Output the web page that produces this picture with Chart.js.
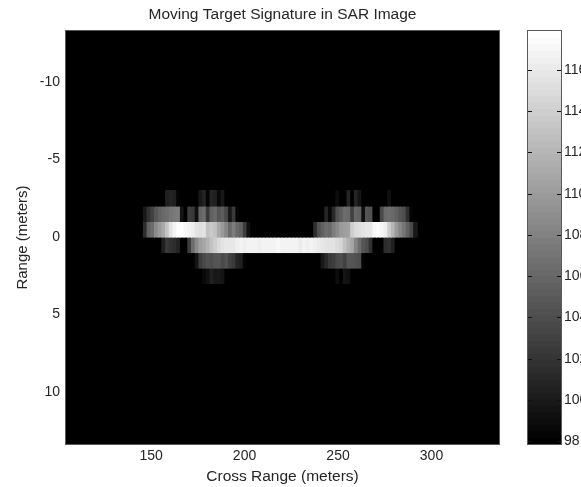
<!DOCTYPE html>
<html>
<head>
<meta charset="utf-8">
<title>Moving Target Signature in SAR Image</title>
<script src="https://cdn.jsdelivr.net/npm/chart.js@4/dist/chart.umd.min.js"></script>
<style>
  html, body { margin: 0; padding: 0; background: #fff; overflow: hidden; }
  canvas { position: absolute; top: 0; }
  #sar { left: 0; }
  #bar { left: 505px; }
</style>
</head>
<body>
<canvas id="sar" width="565" height="487"></canvas>
<canvas id="bar" width="76" height="487"></canvas>
<script>
// cross range of each image column (meters)
const crossRange = [146.88,148.86,150.84,152.82,154.80,156.78,158.76,160.74,162.72,164.70,
  166.68,168.66,170.64,172.62,174.60,176.58,178.56,180.54,182.52,184.50,
  186.48,188.46,190.44,192.42,194.40,196.38,198.36,200.34,202.32,204.30,
  206.28,208.26,210.24,212.22,214.20,216.18,218.16,220.14,222.12,224.10,
  226.08,228.06,230.04,232.02,234.00,235.98,237.96,239.94,241.92,243.90,
  245.88,247.86,249.84,251.82,253.80,255.78,257.76,259.74,261.72,263.70,
  265.68,267.66,269.64,271.62,273.60,275.58,277.56,279.54,281.52,283.50,
  285.48,287.46,289.44,291.42];

// image rows, one per meter of range, values in dB
const rowM3 = [98,98,98,98,98,98,100.4,100.7,100.4,98.4,
  98,98,98,98,98,100,100.7,98.4,100.7,100.4,
  98.8,100,98,98,98,98,98,98,98,98,
  98,98,98,98,98,98,98,98,98,98,
  98,98,98,98,98,98,98,98,98,98,
  98,98,98.9,98,98,100.7,98,100.7,99.6,98,
  98,98,98,98,98,98,99.2,98,98,98,
  98,98,98,98];
const rowM2 = [100,101.9,103.1,104.7,105.5,106.2,106.6,107,107.4,107.8,
  99.6,98,102.7,102.3,99.2,105.8,106.6,102.3,105.5,106.2,
  104.7,105.1,103.5,100,102.3,98.4,98,98,98,98,
  98,98,98,98,98,98,98,98,98,98,
  98,98,98,98,98,98,98,98,98,100.7,
  98.8,101.1,104.3,105.1,106.6,106.2,103.1,105.8,105.5,99.2,
  104.7,104.3,98,98,103.5,106.2,106.6,106.2,105.5,104.7,
  103.9,101.5,98.4,98];
const rowM1 = [101.5,105.5,106.6,108.6,109.8,111.3,113.3,115.6,116.8,117.6,
  117.8,117.2,116.8,116.4,115.6,115.3,115.6,112.9,113.7,112.9,
  111.3,109.8,108.2,106.2,107.8,106.2,105.5,102.7,99.2,98,
  98,98,98,98,98,98,98,98,98,98,
  98,98,98,98,98,98,101.5,104.3,105.5,106.6,
  106.2,107.8,108.6,109.8,110.2,110.5,114.1,114.9,115.3,115.6,
  116,116,117.2,117.5,117.2,116.4,114.1,112.1,109.8,108.2,
  107,105.5,103.5,100];
const rowP0 = [98,98,98,98,98,100.4,102.3,101.9,101.5,100.7,
  98,98,102.7,106.6,108.6,110.2,110.9,111.7,112.9,114.1,
  114.9,115.6,116,116,116,116.4,116.8,116.4,116.8,116.7,
  116.9,116.6,116.8,116.7,116.7,116.9,117,116.8,116.7,116.8,
  116.9,116.8,116.2,116.7,116.5,116.7,116.4,116.2,116,115.6,
  115.6,115.4,114.9,114.5,112.9,111.7,110.9,108.2,106.6,104.7,
  103.9,101.9,98,98,98,101.5,101.9,100.4,98,98,
  98,98,98,98];
const rowP1 = [98,98,98,98,98,98,98,98,98,98,
  98,98,98,98,99.6,102.7,103.5,104.3,103.9,104.7,
  104.7,103.5,104.3,103.1,102.3,100.7,100.4,98.4,98,98,
  98,98,98,98,98,98,98,98,98,98,
  98,98,98,98,98,98,98,98,100,101.1,
  102.3,102.7,103.5,103.9,103.1,104.7,104.7,104.3,103.9,98.4,
  98,98,98,98,98,98,98,98,98,98,
  98,98,98,98];
const rowP2 = [98,98,98,98,98,98,98,98,98,98,
  98,98,98,98,98,98,98.8,99.2,100.4,100,
  100,99.6,98,98,98,98,98,98,98,98,
  98,98,98,98,98,98,98,98,98,98,
  98,98,98,98,98,98,98,98,98,98,
  98,98,98.9,98,99.6,99.2,98,98,98,98,
  98,98,98,98,98,98,98,98,98,98,
  98,98,98,98];

// range span of each row above
const rowSpans = [[-3,-2],[-2,-1],[-1,0],[0,1],[1,2],[2,3]];
const rows = [rowM3,rowM2,rowM1,rowP0,rowP1,rowP2];

// the 64 steps of the colorbar
const levels = [98.03,98.34,98.66,98.97,99.28,99.59,99.91,100.22,100.53,100.84,101.16,101.47,101.78,102.09,102.41,102.72,
  103.03,103.34,103.66,103.97,104.28,104.59,104.91,105.22,105.53,105.84,106.16,106.47,106.78,107.09,107.41,107.72,
  108.03,108.34,108.66,108.97,109.28,109.59,109.91,110.22,110.53,110.84,111.16,111.47,111.78,112.09,112.41,112.72,
  113.03,113.34,113.66,113.97,114.28,114.59,114.91,115.22,115.53,115.84,116.16,116.47,116.78,117.09,117.41,117.72];

const dbMin = 97.87, dbMax = 117.88;
const textColor = '#262626', boxColor = '#5a5a5a';
const font = { family: '"Liberation Sans", Arial, sans-serif', size: 14 };
const labelFont = { family: font.family, size: 15 };
const wideFont = { family: font.family, size: 15.5 };

// gray colormap, 64 steps like the colorbar
const grayFor = v => {
  let step = Math.floor((v - dbMin) / (dbMax - dbMin) * 64);
  step = Math.max(0, Math.min(63, step));
  const g = Math.round(step / 63 * 255);
  return `rgb(${g},${g},${g})`;
};

const imageBack = {
  id: 'imageBack',
  beforeDatasetsDraw(chart) {
    const a = chart.chartArea;
    chart.ctx.fillStyle = '#000';
    chart.ctx.fillRect(a.left, a.top, a.width, a.height);
  },
  afterDatasetsDraw(chart) {
    const a = chart.chartArea, c = chart.ctx;
    c.strokeStyle = boxColor;
    c.lineWidth = 1;
    c.strokeRect(a.left - 0.5, a.top - 0.5, a.width + 1, a.height + 1);
  }
};

// colorbar ticks point inward from both sides
const inwardTicks = {
  id: 'inwardTicks',
  afterDatasetsDraw(chart) {
    const a = chart.chartArea, c = chart.ctx, y = chart.scales.y;
    c.strokeStyle = '#111';
    c.lineWidth = 1;
    y.ticks.forEach(t => {
      const py = Math.round(y.getPixelForValue(t.value)) + 0.5;
      c.beginPath();
      c.moveTo(a.left, py); c.lineTo(a.left + 4, py);
      c.moveTo(a.right - 4, py); c.lineTo(a.right, py);
      c.stroke();
    });
  }
};

new Chart(document.getElementById('sar'), {
  type: 'bar',
  data: {
    datasets: rows.map((row, r) => ({
      data: row.map((v, i) => ({ x: crossRange[i], y: rowSpans[r], v: v })),
      backgroundColor: ctx => grayFor(ctx.raw.v),
      borderWidth: 0,
      inflateAmount: 0.5,
      grouped: false,
      barPercentage: 1,
      categoryPercentage: 1
    }))
  },
  options: {
    responsive: false,
    animation: false,
    layout: { padding: { left: 0, right: 66, top: 0, bottom: 0 } },
    plugins: {
      legend: { display: false },
      tooltip: { enabled: false }
    },
    scales: {
      x: {
        type: 'linear',
        offset: false,
        min: 104.5,
        max: 336.1,
        grid: { display: false, tickLength: 0 },
        border: { display: false },
        ticks: { stepSize: 50, includeBounds: false, color: textColor, font: font, padding: 4, maxRotation: 0 },
        title: { display: true, text: 'Cross Range (meters)', color: textColor, font: wideFont, padding: { top: 2, bottom: 1 } },
        afterFit: s => { s.height = 43; }
      },
      // top axis only holds the title, so it centers over the image
      top: {
        type: 'linear',
        position: 'top',
        offset: false,
        min: 104.5,
        max: 336.1,
        grid: { display: false, tickLength: 0 },
        border: { display: false },
        ticks: { display: false },
        title: { display: true, text: 'Moving Target Signature in SAR Image', color: textColor, font: wideFont, padding: { top: 5, bottom: 0 } },
        afterFit: s => { s.height = 31; }
      },
      y: {
        type: 'linear',
        reverse: true,
        min: -13.28,
        max: 13.34,
        grid: { display: false, tickLength: 0 },
        border: { display: false },
        ticks: { stepSize: 5, includeBounds: false, color: textColor, font: font, padding: 6 },
        title: { display: true, text: 'Range (meters)', color: textColor, font: labelFont, padding: { top: 14, bottom: 0 } },
        afterFit: s => { s.width = 66; }
      }
    }
  },
  plugins: [imageBack]
});

new Chart(document.getElementById('bar'), {
  type: 'bar',
  data: {
    datasets: [{
      data: levels.map(v => ({ y: v, x: 1 })),
      backgroundColor: ctx => grayFor(ctx.raw.y),
      borderWidth: 0,
      inflateAmount: 0.5,
      barPercentage: 1,
      categoryPercentage: 1
    }]
  },
  options: {
    indexAxis: 'y',
    responsive: false,
    animation: false,
    layout: { padding: { left: 23, right: 0, top: 31, bottom: 43 } },
    plugins: { legend: { display: false }, tooltip: { enabled: false } },
    scales: {
      x: { type: 'linear', min: 0, max: 1, display: false },
      y: {
        type: 'linear',
        position: 'right',
        offset: false,
        min: dbMin,
        max: dbMax,
        grid: { display: false, tickLength: 0 },
        border: { display: false },
        ticks: { stepSize: 2, includeBounds: false, color: textColor, font: font, padding: 3 },
        afterFit: s => { s.width = 20; }
      }
    }
  },
  plugins: [imageBack, inwardTicks]
});
</script>
</body>
</html>
